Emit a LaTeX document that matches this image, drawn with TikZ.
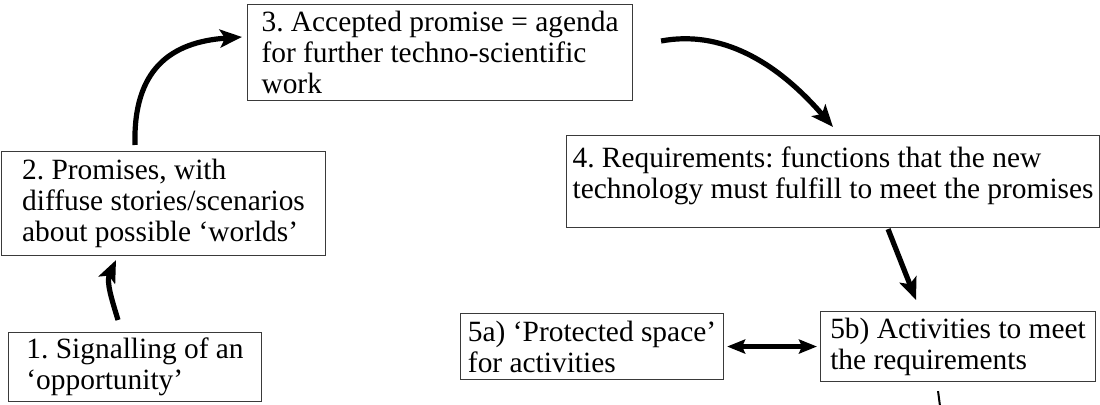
\documentclass[tikz,border=0pt]{standalone}
\usepackage{fontspec}
\setmainfont{Liberation Serif}
\usetikzlibrary{arrows.meta}
\definecolor{ink}{HTML}{000000}
\definecolor{frame}{HTML}{3A3A3A}
\tikzset{
  box/.style={draw=frame, line width=0.55pt, align=left, inner sep=1pt, anchor=north west,
    font=\fontsize{14.7}{15.5}\selectfont\frenchspacing},
  flow/.style={draw=ink, line width=2.6pt, -{Stealth[length=11pt,width=9pt,inset=2.5pt]}},
  twoway/.style={draw=ink, line width=2.3pt,
    {Stealth[length=9pt,width=7pt,inset=1.5pt]}-{Stealth[length=9pt,width=7pt,inset=1.5pt]}},
  stub/.style={draw=ink, line width=1pt},
}

\begin{document}
\begin{tikzpicture}[x=0.5pt,y=-0.5pt]
  \useasboundingbox (0,0) rectangle (1100,405);

  \node[box, minimum width=126.5pt, minimum height=34.5pt] (one) at (8,332)
    {1. Signalling of an\\`opportunity'};
  \node[box, minimum width=162pt, minimum height=52pt] (two) at (1,151)
    {2. Promises, with\\diffuse stories/scenarios\\about possible `worlds'};
  \node[box, minimum width=192.5pt, minimum height=48pt] (three) at (247,4)
    {3. Accepted promise = agenda\\for further techno-scientific\\work};
  \node[box, minimum width=266.5pt, minimum height=46pt] (four) at (566,135)
    {4. Requirements: functions that the new\\technology must fulfill to meet the promises\\[-7pt]\mbox{}};
  \node[box, minimum width=131.5pt, minimum height=33pt] (fivea) at (460,313)
    {5a) `Protected space'\\for activities};
  \node[box, minimum width=137.5pt, minimum height=35pt] (fiveb) at (820,311)
    {5b) Activities to meet\\the requirements};

  \coordinate (cut) at (940,406);

  \draw[flow] ([shift={(110,-12)}]one.north west) .. controls (112,300) and (106,282) .. ([shift={(115,4)}]two.south west);
  \draw[flow] ([shift={(134,-6)}]two.north west) .. controls (133,70) and (170,42) .. ([shift={(-5,33)}]three.north west);
  \draw[flow] ([shift={(28,37)}]three.north east) .. controls (720,30) and (775,60) .. ([shift={(267,-8)}]four.north west);
  \draw[flow] ([shift={(55,1)}]four.south) -- ([shift={(-42,-11)}]fiveb.north);
  \draw[twoway, shorten <=1.5pt, shorten >=1.5pt] (fivea.east) -- (fiveb.west);
  \draw[stub] ([shift={(-20,9)}]fiveb.south) -- (cut);
\end{tikzpicture}
\end{document}
